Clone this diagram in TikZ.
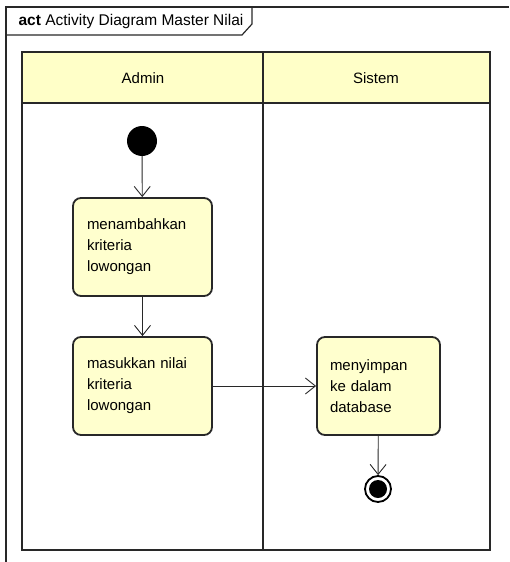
\documentclass[tikz,border=0pt]{standalone}
\usepackage{fontspec}
\setmainfont{Liberation Sans}
\usetikzlibrary{arrows.meta}
\usetikzlibrary{positioning}

\definecolor{laneyellow}{RGB}{255,255,200}
\definecolor{actyellow}{RGB}{255,255,206}
\definecolor{edgegray}{RGB}{40,40,40}

\begin{document}
\begin{tikzpicture}[x=1pt,y=-1pt,
    action/.style={draw=edgegray,line width=1.8pt,fill=actyellow,rounded corners=8pt,
      align=left,inner xsep=14pt,font=\fontsize{15}{21}\selectfont},
    flow/.style={draw=edgegray,line width=0.9pt,-{Straight Barb[length=10pt,width=16pt,line width=0.9pt]}}]

    \useasboundingbox (0,0) rectangle (509,562);

    % draw frame and tab
    \draw[edgegray,line width=1.2pt] (6,562) -- (6,7) -- (509,7);
    \draw[edgegray,line width=1.2pt] (6,35) -- (242,35) -- (252,24) -- (252,7);
    \node[font=\fontsize{15.5}{17}\selectfont] (title) at (131,21) {\textbf{act} Activity Diagram Master Nilai};

    % draw swimlanes
    \draw[edgegray,line width=1.8pt,fill=laneyellow] (22,52) rectangle (490,103);
    \draw[edgegray,line width=1.8pt] (22,103) rectangle (490,550);
    \draw[edgegray,line width=1.8pt] (263,52) -- (263,550);
    \node[font=\fontsize{15}{17}\selectfont] (admin) at (143,78) {Admin};
    \node[font=\fontsize{15}{17}\selectfont] (sistem) at (376,78) {Sistem};

    % draw actions
    \node[circle,fill=black,minimum size=30pt,inner sep=0pt] (start) at (142,141) {};
    \node[action,text width=111pt,minimum height=98pt] (tambah) at (142.5,247) {menambahkan\\kriteria\\lowongan};
    \node[action,text width=111pt,minimum height=98pt] (masuk) at (142.5,386) {masukkan nilai\\kriteria\\lowongan};
    \node[action,inner xsep=13pt,text width=97pt,minimum height=98pt] (simpan) at (378.5,386) {menyimpan\\ke dalam\\database};
    \node[circle,draw=black,line width=1.8pt,minimum size=26pt,inner sep=0pt] (end) at (378,489) {};
    \fill[black] (end.center) circle (9);

    % draw flows
    \draw[flow] (start) -- (tambah);
    \draw[flow] (tambah) -- (masuk);
    \draw[flow] (masuk) -- (simpan);
    \draw[flow] (simpan) -- (end);
\end{tikzpicture}
\end{document}
